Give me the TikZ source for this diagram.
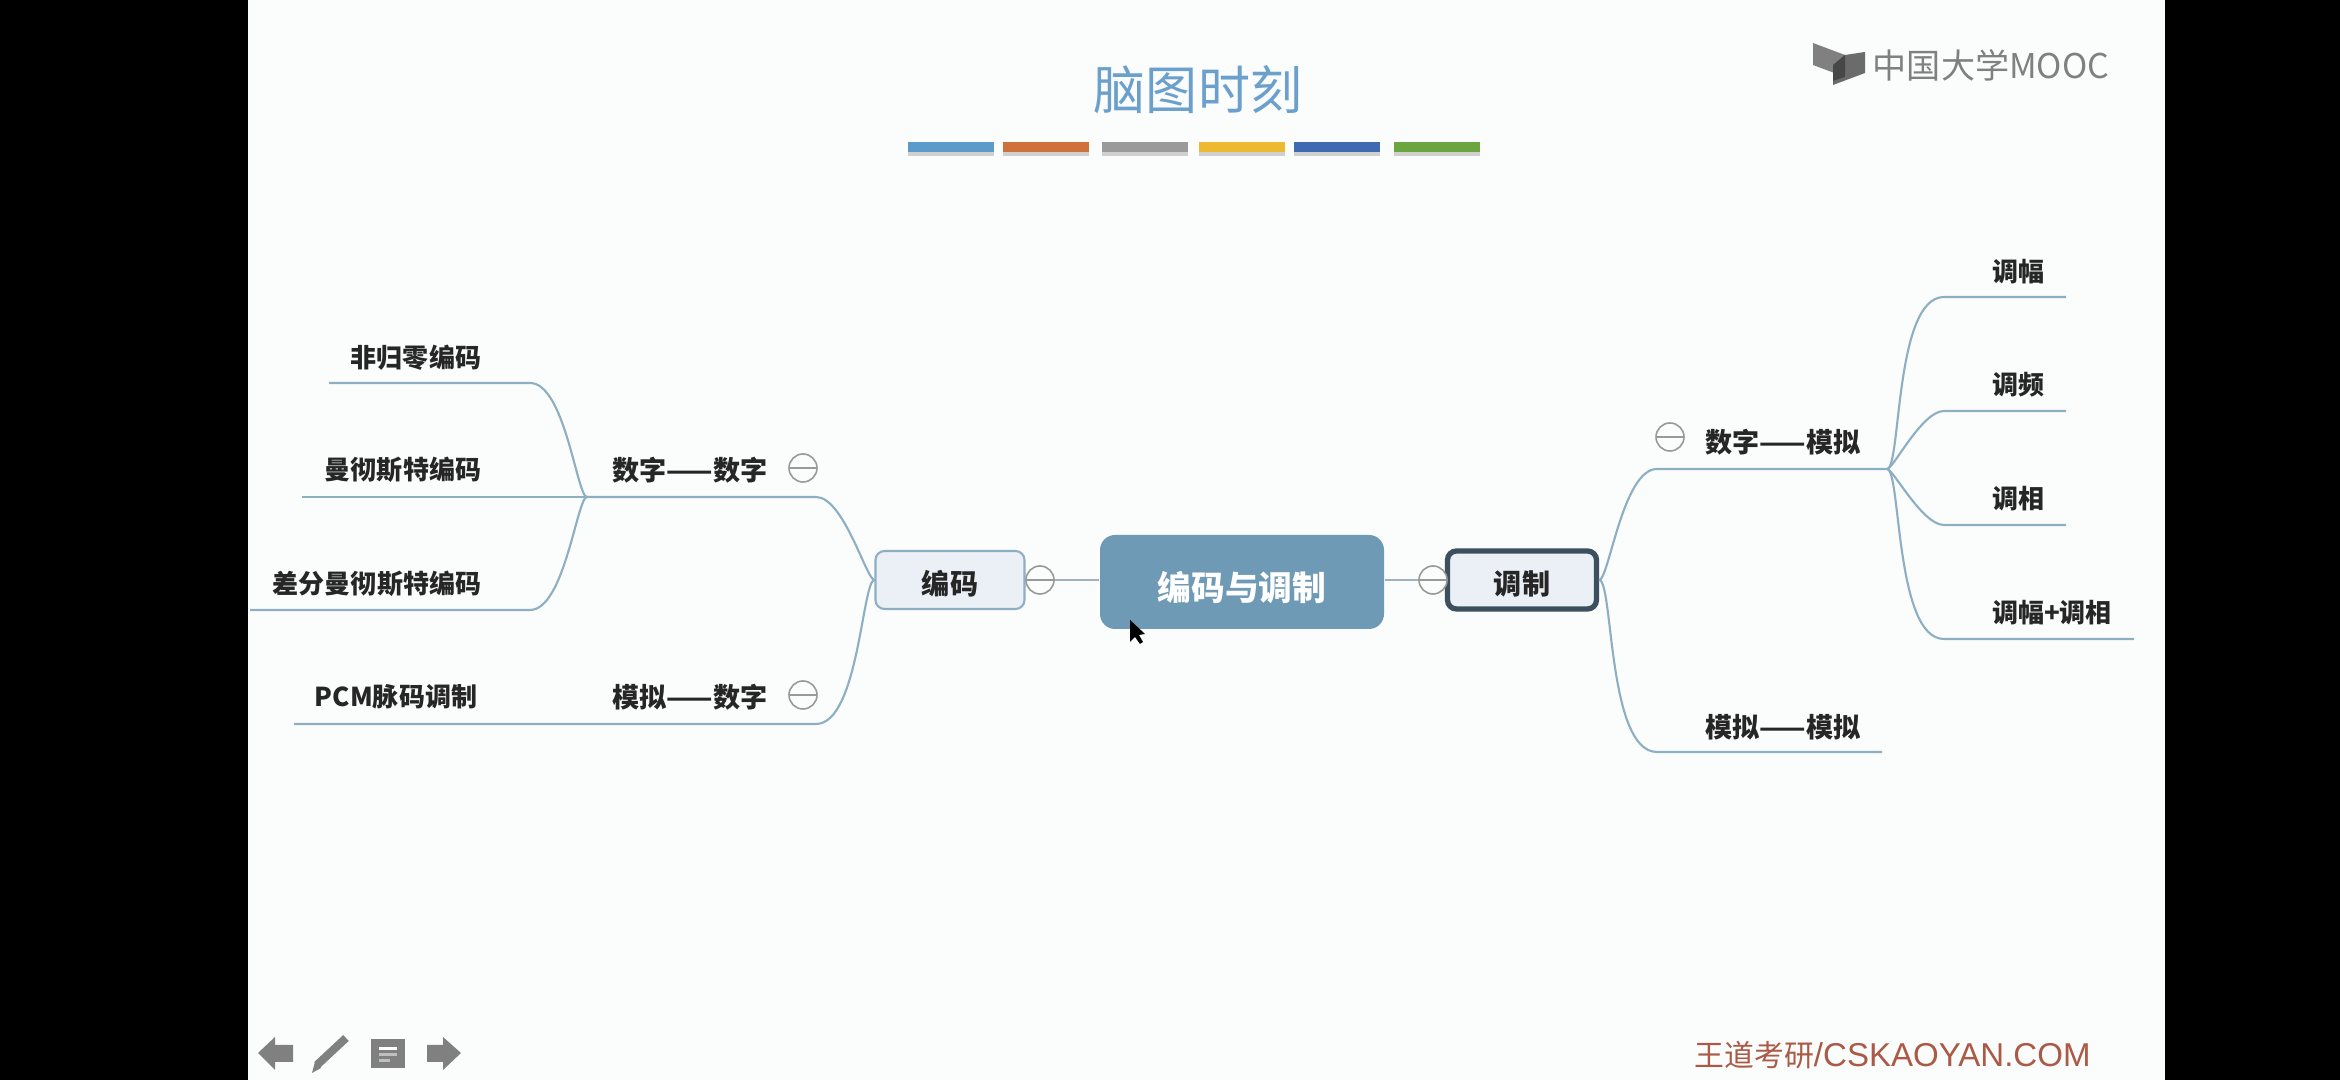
\documentclass[tikz,border=0pt]{standalone}
\usepackage{fontspec}
\usepackage{xcolor}
\usetikzlibrary{shadows}
\setmainfont{Noto Sans CJK SC}
\newfontfamily\latinfont{Liberation Sans}
\definecolor{mybg}{RGB}{251,252,252}
\definecolor{myline}{RGB}{142,174,194}
\definecolor{mylink}{RGB}{160,178,190}
\definecolor{mycenter}{RGB}{110,154,181}
\definecolor{mydark}{RGB}{60,79,95}
\definecolor{mybox}{RGB}{234,240,245}
\definecolor{mygray}{RGB}{128,128,128}
\definecolor{myred}{RGB}{170,90,70}
\definecolor{mytitle}{RGB}{108,160,204}
\begin{document}
\begin{tikzpicture}[
    label/.style={font=\fontsize{7.4pt}{9pt}\selectfont\bfseries, text=black!85, inner sep=0pt},
    dashlabel/.style={label, font=\fontsize{7.7pt}{9pt}\selectfont\bfseries},
    branch/.style={myline, line width=0.6pt},
    twig/.style={out looseness=0.2, in looseness=0.7},
    link/.style={mylink, line width=0.6pt},
    minus/.style={circle, draw=black!40, fill=mybg, line width=0.45pt, minimum size=0.28cm, inner sep=0pt,
        path picture={\draw[black!40, line width=0.45pt] (path picture bounding box.west) -- (path picture bounding box.east);}},
    bar/.style={minimum width=0.86cm, minimum height=0.1cm, inner sep=0pt,
        drop shadow={shadow xshift=0pt, shadow yshift=-0.4mm, opacity=0.35}},
    subbox/.style={rounded corners=0.09cm, fill=mybox, minimum width=1.49cm, minimum height=0.58cm, inner sep=0pt,
        text height=0.8em, text depth=0pt, font=\fontsize{8pt}{10pt}\selectfont\bfseries, text=black!85},
    icon/.style={fill=black!50, draw=none}
]
\useasboundingbox (0,0) rectangle (23.4,10.8);
\fill[black] (0,0) rectangle (23.4,10.8);
\fill[mybg] (2.48,0) rectangle (21.65,10.8);

% title and bars
\node[font=\fontsize{14.8pt}{17pt}\selectfont, text=mytitle, inner sep=0pt] (title) at (11.98,9.9) {脑图时刻};
\node[bar, fill={rgb,255:red,91;green,155;blue,201}] (bar1) at (9.51,9.33) {};
\node[bar, fill={rgb,255:red,208;green,112;blue,58}] (bar2) at (10.46,9.33) {};
\node[bar, fill={rgb,255:red,154;green,154;blue,154}] (bar3) at (11.45,9.33) {};
\node[bar, fill={rgb,255:red,237;green,185;blue,46}] (bar4) at (12.42,9.33) {};
\node[bar, fill={rgb,255:red,63;green,105;blue,176}] (bar5) at (13.37,9.33) {};
\node[bar, fill={rgb,255:red,107;green,165;blue,63}] (bar6) at (14.37,9.33) {};

% logo
\fill[black!50] (18.13,10.37) -- (18.45,10.25) -- (18.45,10.03) -- (18.13,10.15) -- cycle;
\fill[black!58] (18.33,10.15) -- (18.45,10.25) -- (18.65,10.28) -- (18.65,10.07) -- (18.33,9.95) -- cycle;
\fill[black!72] (18.33,10.15) -- (18.45,10.25) -- (18.45,10.03) -- (18.33,9.99) -- cycle;
\node[font=\fontsize{9.7pt}{11pt}\selectfont, text=mygray, inner sep=0pt] (logo) at (19.91,10.15) {中国大学MOOC};

% boxes
\node[rounded corners=0.15cm, fill=mycenter, minimum width=2.84cm, minimum height=0.94cm, inner sep=0pt,
    text height=1.03em, text depth=0pt, text=white, font=\fontsize{9.6pt}{11pt}\selectfont\bfseries] (main) at (12.42,4.98) {编码与调制};
\node[subbox, draw=myline, line width=0.6pt] (enc) at (9.5,5.0) {编码};
\node[subbox, draw=mydark, line width=1.5pt] (mod) at (15.22,5.0) {调制};
\draw[link] (enc.east) -- (enc.east -| main.west);
\draw[link] (mod.west) -- (mod.west -| main.east);
\node[minus] (encm) at (10.4,5.0) {};
\node[minus] (modm) at (14.33,5.0) {};

% left side
\node[dashlabel] (dd) at (6.9,6.1) {数字——数字};
\node[dashlabel] (ad) at (6.9,3.83) {模拟——数字};
\node[minus] (ddm) at (8.03,6.12) {};
\node[minus] (adm) at (8.03,3.85) {};
\node[label] (nrz) at (4.16,7.22) {非归零编码};
\node[label] (man) at (4.03,6.1) {曼彻斯特编码};
\node[label] (dman) at (3.77,4.96) {差分曼彻斯特编码};
\node[label] (pcm) at (3.96,3.83) {PCM脉码调制};
\coordinate (ddr) at (8.16,5.83);
\coordinate (ddl) at (5.87,5.83);
\coordinate (adr) at (8.16,3.56);
\coordinate (nrzr) at (5.3,6.97);
\coordinate (nrzl) at (3.29,6.97);
\coordinate (manl) at (3.02,5.83);
\coordinate (dmanr) at (5.3,4.7);
\coordinate (dmanl) at (2.5,4.7);
\coordinate (pcml) at (2.94,3.56);
\draw[branch] (enc.west) to[out=180,in=0,twig] (ddr) -- (ddl);
\draw[branch] (enc.west) to[out=180,in=0,twig] (adr) -- (pcml);
\draw[branch] (ddl) to[out=180,in=0,twig] (nrzr) -- (nrzl);
\draw[branch] (ddl) -- (manl);
\draw[branch] (ddl) to[out=180,in=0,twig] (dmanr) -- (dmanl);

% right side
\node[dashlabel] (da) at (17.83,6.38) {数字——模拟};
\node[dashlabel] (aa) at (17.83,3.53) {模拟——模拟};
\node[minus] (dam) at (16.7,6.43) {};
\node[label] (am) at (20.18,8.08) {调幅};
\node[label] (fm) at (20.18,6.95) {调频};
\node[label] (pm) at (20.18,5.81) {调相};
\node[label] (apm) at (20.52,4.67) {调幅+调相};
\coordinate (dal) at (16.57,6.11);
\coordinate (dar) at (18.87,6.11);
\coordinate (aal) at (16.57,3.28);
\coordinate (aar) at (18.82,3.28);
\coordinate (aml) at (19.44,7.83);
\coordinate (amr) at (20.66,7.83);
\coordinate (fml) at (19.44,6.69);
\coordinate (fmr) at (20.66,6.69);
\coordinate (pml) at (19.44,5.55);
\coordinate (pmr) at (20.66,5.55);
\coordinate (apml) at (19.44,4.41);
\coordinate (apmr) at (21.34,4.41);
\draw[branch] (mod.east) to[out=0,in=180,twig] (dal) -- (dar);
\draw[branch] (mod.east) to[out=0,in=180,twig] (aal) -- (aar);
\draw[branch] (dar) to[out=0,in=180,twig] (aml) -- (amr);
\draw[branch] (dar) to[out=0,in=180,twig] (fml) -- (fmr);
\draw[branch] (dar) to[out=0,in=180,twig] (pml) -- (pmr);
\draw[branch] (dar) to[out=0,in=180,twig] (apml) -- (apmr);

% cursor
\fill[black] (11.3,4.6) -- (11.3,4.38) -- (11.35,4.43) -- (11.4,4.36) -- (11.43,4.38) -- (11.39,4.45) -- (11.45,4.46) -- cycle;

% toolbar
\fill[icon] (2.58,0.27) -- (2.75,0.43) -- (2.75,0.35) -- (2.93,0.35) -- (2.93,0.18) -- (2.75,0.18) -- (2.75,0.1) -- cycle;
\draw[black!50, line width=2.3pt] (3.17,0.15) -- (3.46,0.42);
\fill[icon] (3.12,0.07) -- (3.21,0.12) -- (3.15,0.18) -- cycle;
\fill[icon] (3.71,0.12) rectangle (4.05,0.41);
\fill[white] (3.79,0.3) rectangle (3.97,0.33);
\fill[black!25] (3.79,0.24) rectangle (3.97,0.27);
\fill[black!25] (3.79,0.18) rectangle (3.9,0.21);
\fill[icon] (4.61,0.27) -- (4.43,0.43) -- (4.43,0.35) -- (4.27,0.35) -- (4.27,0.18) -- (4.43,0.18) -- (4.43,0.1) -- cycle;

% footer
\node[font=\fontsize{8.5pt}{10pt}\selectfont, text=myred, inner sep=0pt] (foot) at (18.925,0.25) {王道考研{\latinfont\fontsize{9.4pt}{10pt}\selectfont /CSKAOYAN.COM}};
\end{tikzpicture}
\end{document}
